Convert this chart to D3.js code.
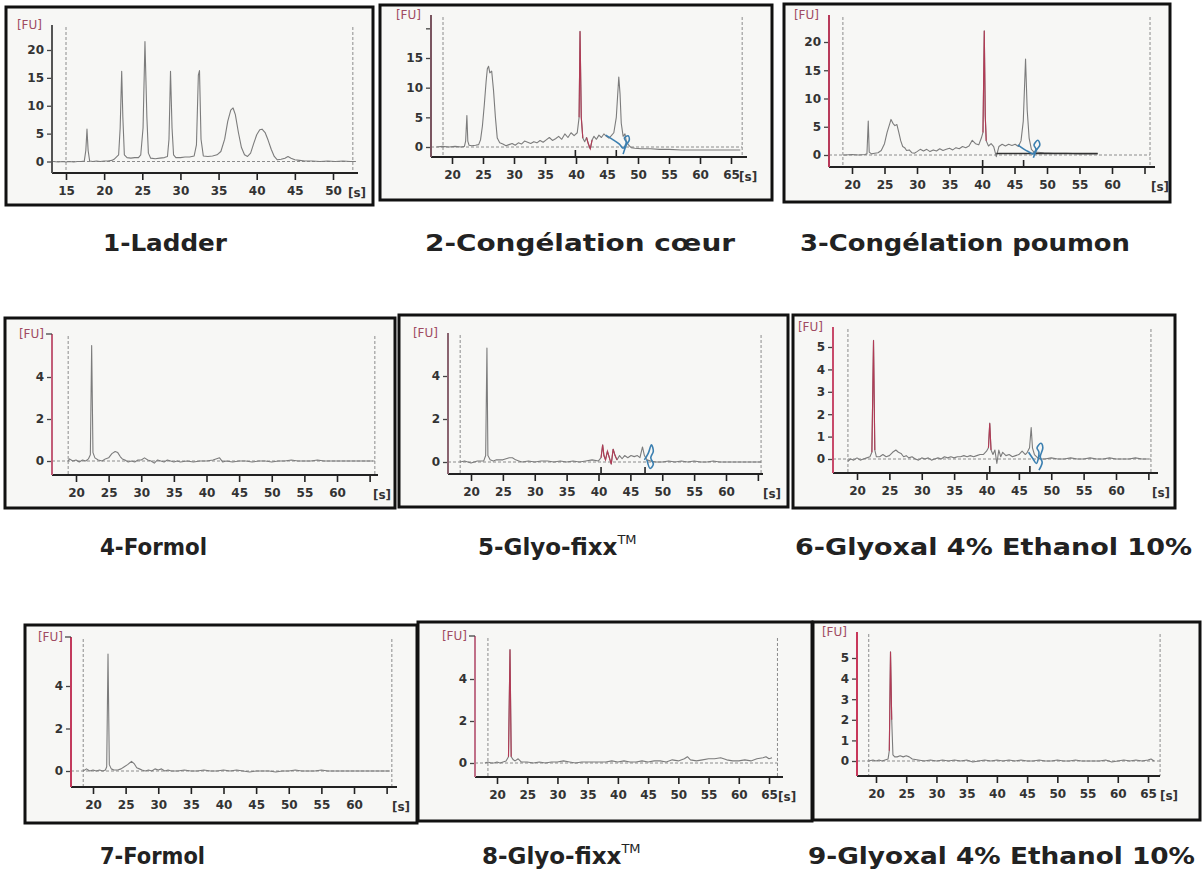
<!DOCTYPE html>
<html><head><meta charset="utf-8">
<script src="https://cdn.jsdelivr.net/npm/d3@7"></script>
<style>body{margin:0;background:#fff}</style>
</head><body>
<svg id="c" width="1203" height="872"></svg>
<script>
// ---------- DATA (time [s], fluorescence [FU]) ----------
const titles = ["1-Ladder","2-Congélation cœur","3-Congélation poumon","4-Formol","5-Glyo-fixx","6-Glyoxal 4% Ethanol 10%","7-Formol","8-Glyo-fixx","9-Glyoxal 4% Ethanol 10%"];
const titleSup = ["","","","","TM","","","TM",""];

const ladder = [[13.3,0],[14,-0.1],[14.5,0],[15,-0.1],[15.5,0],[16,-0.1],[16.5,0],[17,0],[17.4,0.1],[17.6,2],[17.75,5.8],[17.9,2],[18.1,0.1],[18.5,0],[19,0.1],[19.5,0],[20,0.1],[20.5,0.1],[21,0.2],[21.3,0.4],[21.6,0.8],[21.9,1.2],[22.1,6],[22.3,16.2],[22.45,8],[22.65,1.2],[23,0.7],[23.5,0.6],[24,0.7],[24.5,0.7],[24.8,1.2],[25.1,6],[25.35,21.5],[25.6,8],[25.8,1.5],[26.1,0.6],[26.7,0.5],[27.3,0.6],[27.9,0.7],[28.3,0.9],[28.5,4],[28.7,16.2],[28.9,6],[29.1,1.2],[29.4,0.7],[30,0.7],[30.6,0.8],[31.2,0.8],[31.8,1],[32.1,3],[32.35,15.5],[32.5,16.3],[32.7,4],[33,1],[33.6,0.9],[34.2,1],[34.8,1.2],[35.3,1.8],[35.8,4],[36.2,7.2],[36.6,9.2],[36.9,9.6],[37.2,8.4],[37.6,5.2],[38,2.5],[38.4,1.2],[38.8,0.9],[39.2,1.5],[39.6,3.2],[40,4.8],[40.4,5.7],[40.7,5.8],[41.1,5.2],[41.5,3.8],[41.9,2.2],[42.3,0.9],[42.7,0.3],[43.2,0.4],[43.7,0.6],[44.1,0.9],[44.5,0.6],[45,0.3],[45.6,0.2],[46.3,0.1],[47.3,0.1],[48.3,0],[49.3,0.1],[50.3,0],[51.3,0.1],[52.3,0],[53,0]];

const coeur = [[17.5,0],[18.5,0.1],[19.5,0],[20.5,0.1],[21.5,0],[22,0.1],[22.2,1],[22.4,5.3],[22.55,1],[22.75,0.3],[23.2,0.2],[23.8,0.3],[24.3,0.4],[24.6,1.2],[24.9,3.5],[25.2,7],[25.5,11],[25.7,13.2],[25.9,13.6],[26.1,12.5],[26.4,12.8],[26.7,9.5],[27,5],[27.3,1.5],[27.7,0.7],[28.2,0.5],[28.7,0.2],[29.2,0.4],[29.7,0.6],[30.2,0.3],[30.7,0.7],[31.2,0.5],[31.7,1],[32.2,0.8],[32.7,0.6],[33.2,0.9],[33.7,0.7],[34.2,1.1],[34.7,0.8],[35.2,1.2],[35.7,1.6],[36.2,1.1],[36.7,1.4],[37.2,1.8],[37.7,1.3],[38.2,2.2],[38.7,1.6],[39.2,2.4],[39.7,1.9],[40.2,2.4],[40.5,5],[40.65,19.5],[40.85,5],[41.1,1.5],[41.4,0.9],[41.7,1.6],[42,0.5],[42.3,-0.3],[42.6,1.2],[42.9,1.8],[43.3,1.3],[43.7,2],[44.1,1.6],[44.5,2.2],[44.9,1.8],[45.3,1.5],[45.7,1.9],[46.1,2.4],[46.5,5],[46.9,11.8],[47.1,9],[47.3,4],[47.6,1.8],[47.9,2.2],[48.1,1],[48.5,0.3],[48.9,-0.1],[49.5,-0.2],[50.5,-0.3],[52,-0.3],[53.5,-0.4],[55,-0.4],[57,-0.5],[59,-0.5],[61,-0.5],[63,-0.5],[65,-0.5],[66.5,-0.5]];
const coeurBlue = [[44.8,2],[46,1.2],[47,0.5],[47.6,-0.2],[48.1,0.8],[47.8,1.5],[48.4,1.9],[48.6,1.2],[48.1,0.3],[47.6,-1.2]];

const poumon = [[18.6,0],[19,0],[20,0.1],[21,0],[22,0.1],[22.3,0.2],[22.5,6],[22.65,0.5],[23,0.2],[23.5,0.3],[24,0.4],[24.5,0.8],[25,2],[25.4,4],[25.8,5.5],[26,6.3],[26.3,5.6],[26.6,5.2],[26.9,5.4],[27.2,4],[27.5,2.5],[27.8,1.5],[28.1,1.3],[28.4,0.8],[28.8,0.9],[29.2,0.4],[29.6,0.3],[30,0.6],[30.5,1],[31,0.7],[31.5,1],[32,0.6],[32.5,0.9],[33,0.7],[33.5,1.1],[34,0.8],[34.5,1],[35,1.2],[35.5,0.9],[36,1.3],[36.5,1.1],[37,1.5],[37.5,1.3],[38,1.6],[38.5,2.6],[39,2],[39.5,1.8],[39.9,3],[40.15,4],[40.35,22],[40.5,7],[40.65,2.5],[41,1.6],[41.4,2],[41.8,1.5],[42.2,-0.3],[42.6,1.5],[43.1,1.9],[43.6,1.6],[44.1,1.9],[44.6,1.7],[45.1,1.9],[45.6,1.5],[46,2.5],[46.35,6],[46.7,17],[46.95,8],[47.25,3],[47.6,1],[48,0.5],[48.5,0.5],[49.5,0.4],[51,0.3],[53,0.3],[55,0.2],[57.8,0.2]];
const poumonBase = [[42.2,0.25],[57.8,0.25]];
const poumonBlue = [[45.5,1.8],[46.5,1],[47.3,0.5],[47.8,0.2],[48.3,1],[48,1.8],[48.6,2.6],[48.9,1.8],[48.4,0.9],[47.9,-0.5]];

const formolA = [[18.8,0],[19,0.1],[19.5,0],[20,0.05],[20.5,-0.05],[21,0.05],[21.5,0],[21.9,0.1],[22.2,0.3],[22.4,5.5],[22.6,0.4],[22.9,0.15],[23.4,0.05],[24,0],[24.5,0.1],[25,0.15],[25.5,0.35],[26,0.45],[26.4,0.4],[26.8,0.2],[27.1,0.1],[27.5,0.05],[28,-0.05],[28.5,0],[29,-0.05],[29.5,0.05],[30,0.05],[30.5,0.15],[31,0.05],[31.5,0],[32,-0.1],[32.5,0.05],[33,0],[33.5,-0.05],[34,0.05],[34.5,0],[35,-0.05],[35.5,0],[36,-0.05],[37,0],[38,-0.05],[39,0],[40,0],[41,0.05],[42,0.15],[42.5,-0.05],[43,0],[44,-0.05],[45,0],[46,0],[47,-0.05],[48,0],[49,0],[50,-0.05],[51,0],[52,0],[53,0.05],[54,0],[55,0],[56,0],[57,0.05],[58,0],[59,0],[60,0],[61,0],[62,0],[63,0],[64,0],[65,0],[65.5,0]];

const glyoA = [[18.3,0],[19,0.05],[20,-0.05],[21,0.05],[22,0.05],[22.3,0.3],[22.5,5.3],[22.65,0.3],[23,0.1],[23.5,0.05],[24,0.1],[25,0.1],[25.5,0.15],[26,0.2],[26.5,0.2],[27,0.1],[27.5,0.05],[28,0],[29,0.05],[30,0],[31,0.05],[32,0.05],[33,0],[34,0.05],[35,0],[36,0.05],[37,0],[38,0.05],[39,0.1],[40,0.05],[40.4,0.2],[40.65,0.8],[40.85,0.3],[41.1,0.1],[41.4,0.5],[41.7,0.2],[42,-0.1],[42.3,0.6],[42.6,0.3],[42.9,0.1],[43.3,0.3],[43.7,0.15],[44.1,0.3],[44.6,0.2],[45.1,0.3],[45.6,0.25],[46.1,0.3],[46.5,0.2],[46.9,0.7],[47.2,0.3],[47.6,0.1],[48.2,0.05],[49,0],[50,0],[51,0.05],[52,0],[53,0.05],[54,0],[55,0.05],[56,0],[57,0],[58,0.05],[59,0],[60,0],[61,0],[62,0],[63,0],[64,0],[65.5,0]];
const glyoABlue = [[47.2,0.1],[47.8,0.4],[48.3,0.8],[48.6,0.5],[48.2,0.2],[48.6,-0.1],[48.1,-0.3],[47.6,0.1]];

const glyoxalA = [[18.6,-0.1],[19,0],[19.5,-0.05],[20,0.05],[20.5,-0.05],[21,0],[21.5,0.05],[22,0.1],[22.3,0.3],[22.55,5.3],[22.75,0.4],[23,0.1],[23.5,0.1],[24,0.2],[24.5,0.1],[25,0.15],[25.5,0.3],[26,0.4],[26.4,0.3],[26.8,0.25],[27.2,0.1],[27.6,0.15],[28,0.05],[28.5,0.1],[29,0],[29.5,-0.05],[30,0.05],[30.5,0],[31,0.05],[31.5,-0.05],[32,0],[32.5,0.05],[33,0],[33.5,0.1],[34,0.05],[34.5,0.1],[35,0.05],[35.5,0.1],[36,0.1],[36.5,0.15],[37,0.1],[37.5,0.15],[38,0.1],[38.5,0.15],[39,0.2],[39.5,0.2],[40,0.35],[40.3,0.5],[40.5,1.6],[40.7,0.4],[41,0.2],[41.3,0.4],[41.6,-0.2],[41.9,0.4],[42.2,0.1],[42.5,0.3],[43,0.15],[43.5,0.2],[44,0.1],[44.5,0.15],[45,0.2],[45.5,0.35],[46,0.2],[46.3,0.3],[46.65,0.5],[46.9,1.4],[47.1,0.5],[47.4,0.2],[47.9,0.05],[48.5,0],[49,0],[50,0.05],[51,0],[52,0],[53,0.05],[54,0],[55,0],[56,0.05],[57,0],[58,0],[59,0.05],[60,0],[61,0],[62,0],[63,0.05],[64,0],[65,0]];
const glyoxalABlue = [[46.5,0.3],[47.2,0],[47.7,-0.2],[48.1,0.3],[47.8,0.5],[48.4,0.7],[48.7,0.5],[48.3,0.1],[48.6,-0.15],[48.1,-0.5]];

const formolB = [[18.5,0],[19,0.1],[19.5,0],[20,0.05],[20.5,0],[21,0.05],[21.5,0],[21.9,0.05],[22.1,0.2],[22.3,5.5],[22.5,0.3],[22.8,0.1],[23.2,0.05],[23.8,0.05],[24.3,0.1],[24.8,0.2],[25.3,0.3],[25.9,0.45],[26.3,0.35],[26.7,0.15],[27.1,0.1],[27.5,0.05],[28,0],[28.5,0.05],[29,0],[29.5,0.1],[30,0.05],[30.5,0.1],[31,0],[31.5,0.05],[32,0],[33,0],[34,0.05],[35,0],[36,0],[37,0.05],[38,0],[39,0],[40,0.05],[41,0],[42,0.05],[43,0],[44,-0.05],[45,0],[46,0],[47,0],[48,-0.05],[49,0],[50,0],[51,0.05],[52,0],[53,0],[54,0],[55,0.05],[56,0],[57,0],[58,0],[59,0],[60,0],[61,0],[62,0],[63,0],[64,0],[65,0],[65.5,0]];

const glyoB = [[18,0],[18.5,0.05],[19,0],[19.5,0],[20,0.05],[20.5,0],[21,0.05],[21.5,0.1],[21.9,0.3],[22.15,5.4],[22.35,0.3],[22.7,0.15],[23,0.1],[23.5,0.2],[24,0.05],[25,0.05],[26,0],[27,0.05],[28,0],[29,0.05],[30,0.05],[31,0.1],[32,0.05],[33,0],[34,0.05],[35,0.05],[36,0.05],[37,0.05],[38,0.05],[39,0.1],[40,0.05],[41,0.1],[42,0.05],[43,0.05],[44,0.1],[45,0.05],[46,0.1],[47,0.1],[48,0.05],[49,0.15],[50,0.1],[51,0.2],[51.5,0.3],[52,0.15],[53,0.1],[54,0.15],[55,0.2],[56,0.2],[57,0.25],[58,0.15],[59,0.1],[60,0.1],[61,0.15],[62,0.1],[63,0.2],[64,0.25],[64.5,0.3],[65,0.2],[65.5,0.25]];

const glyoxalB = [[18.8,0],[19.5,0.05],[20,0],[20.5,0.05],[21,0],[21.5,0.05],[22,0.1],[22.2,0.5],[22.4,5.3],[22.6,2],[22.8,0.3],[23.1,0.2],[23.5,0.2],[24,0.25],[24.5,0.2],[25,0.25],[25.5,0.2],[26,0.1],[27,0.05],[28,0],[29,0.05],[30,0],[31,0.05],[32,0],[33,0.05],[34,0],[35,0.05],[36,-0.05],[37,0],[38,0.05],[39,0],[40,0.05],[41,0],[42,0.05],[43,0],[44,0.05],[45,0],[46,0],[47,0.05],[48,0],[49,0],[50,0.05],[51,0],[52,0],[53,0.05],[54,0],[55,0],[56,0],[57,0],[58,0.05],[59,-0.05],[60,0],[61,0.05],[62,0],[63,0.05],[64,0],[65,0.05],[65.5,0.1],[66,0]];

const xTicksA = [15,20,25,30,35,40,45,50];
const xTicksB = [20,25,30,35,40,45,50,55,60,65];
const yTicksLadder = [0,5,10,15,20];
const yTicksSmall = [0,2,4];
const yTicksFive = [0,1,2,3,4,5];

// ---------- LAYOUT / STYLE ----------
const panels = [
 {trace:ladder, box:[6,7,373,205], yAx:52, yTop:25, xAxY:173, xRef:[15,50], xPx:[66,333], yRef:[0,20], yPx:[161.5,50], xEnd:358, dash:[15,52.6], xt:xTicksA, xl:xTicksA, yt:yTicksLadder, yl:yTicksLadder, sX:357, sA:"middle", yCol:"#555", fuTick:false, red:[]},
 {trace:coeur, blue:coeurBlue, box:[380,5,772,200], yAx:431, yTop:15, xAxY:157, xRef:[20,65], xPx:[452,731], yRef:[0,15], yPx:[147,58], xEnd:747, dash:[18.55,66.8], xt:xTicksB, xl:xTicksB, yt:[0,5,10,15,20], yl:[0,5,10,15], sX:739, sA:"start", yCol:"#7a5560", fuTick:false, red:[[40.3,41.1],[41.5,42.8]], marks:[39.9,46.5]},
 {trace:poumon, base:poumonBase, blue:poumonBlue, box:[784,4,1170,202], yAx:829, yTop:15, xAxY:167, xRef:[20,60], xPx:[852,1112], yRef:[0,20], yPx:[155,42], xEnd:1155, dash:[18.6,65.85], xt:xTicksB, xl:[20,25,30,35,40,45,50,55,60], yt:yTicksLadder, yl:yTicksLadder, sX:1160, sA:"middle", yCol:"#b83a5a", fuTick:false, red:[[40,40.7]], marks:[40.1,46.4]},
 {trace:formolA, box:[5,318,395,508], yAx:52, yTop:334, xAxY:475, xRef:[20,60], xPx:[76,337], yRef:[0,4], yPx:[461,377], xEnd:378, dash:[18.8,65.8], xt:xTicksB, xl:[20,25,30,35,40,45,50,55,60], yt:yTicksSmall, yl:yTicksSmall, sX:382, sA:"middle", yCol:"#c25d78", fuTick:true, red:[]},
 {trace:glyoA, blue:glyoABlue, box:[399,315,788,507], yAx:448, yTop:333, xAxY:474, xRef:[20,60], xPx:[471,726], yRef:[0,4], yPx:[462,376], xEnd:763, dash:[18.3,65.5], xt:xTicksB, xl:[20,25,30,35,40,45,50,55,60], yt:yTicksSmall, yl:yTicksSmall, sX:772, sA:"middle", yCol:"#8a6470", fuTick:false, red:[[40.4,43]], marks:[40.4,47.3]},
 {trace:glyoxalA, blue:glyoxalABlue, box:[793,315,1175,508], yAx:833, yTop:327, xAxY:473, xRef:[20,60], xPx:[857,1116], yRef:[0,5], yPx:[459,347], xEnd:1158, dash:[18.6,65.4], xt:xTicksB, xl:[20,25,30,35,40,45,50,55,60], yt:yTicksFive, yl:yTicksFive, sX:1161, sA:"middle", yCol:"#c84a6a", fuTick:false, red:[[22.2,22.8],[40.3,40.7]], marks:[40.5,46.7]},
 {trace:formolB, box:[25,625,417,823], yAx:71, yTop:637, xAxY:787, xRef:[20,60], xPx:[93,354], yRef:[0,4], yPx:[771,686], xEnd:397, dash:[18.5,65.8], xt:xTicksB, xl:[20,25,30,35,40,45,50,55,60], yt:yTicksSmall, yl:yTicksSmall, sX:401, sA:"middle", yCol:"#c23a5c", fuTick:true, red:[]},
 {trace:glyoB, box:[418,622,812,821], yAx:475, yTop:636, xAxY:777, xRef:[20,65], xPx:[497,769], yRef:[0,4], yPx:[763,679], xEnd:783, dash:[18.5,66.4], xt:xTicksB, xl:xTicksB, yt:yTicksSmall, yl:yTicksSmall, sX:778, sA:"start", yCol:"#c07088", fuTick:true, red:[[21.9,22.4]]},
 {trace:glyoxalB, box:[813,622,1200,820], yAx:857, yTop:632, xAxY:776, xRef:[20,65], xPx:[876,1148], yRef:[0,5], yPx:[761,658], xEnd:1160, dash:[18.8,67], xt:xTicksB, xl:xTicksB, yt:yTicksFive, yl:yTicksFive, sX:1169, sA:"middle", yCol:"#c8385a", fuTick:false, red:[[22.2,22.7]]}
];
const titlePos = [[103,251,124],[425,251,310],[800,251,330],[100,555,107],[478,555,137],[795,555,397],[100,864,105],[482,864,138],[808,864,387]];

const svg = d3.select("#c");
svg.append("rect").attr("width",1203).attr("height",872).attr("fill","#fff");

panels.forEach((p,i)=>{
  const g = svg.append("g");
  g.append("rect").attr("x",p.box[0]).attr("y",p.box[1])
    .attr("width",p.box[2]-p.box[0]).attr("height",p.box[3]-p.box[1])
    .attr("fill","#f7f7f5").attr("stroke","#111").attr("stroke-width",3);
  const x = d3.scaleLinear().domain(p.xRef).range(p.xPx);
  const y = d3.scaleLinear().domain(p.yRef).range(p.yPx);

  p.dash.forEach(t=>{
    g.append("line").attr("x1",x(t)).attr("x2",x(t)).attr("y1",p.yTop+2).attr("y2",p.xAxY)
      .attr("stroke","#8c8c8c").attr("stroke-width",1).attr("stroke-dasharray","3,2");
  });
  g.append("line").attr("x1",p.yAx).attr("x2",x(p.dash[1])).attr("y1",y(0)).attr("y2",y(0))
    .attr("stroke","#8c8c8c").attr("stroke-width",1).attr("stroke-dasharray","3,2");

  const line = d3.line().x(d=>x(d[0])).y(d=>y(d[1]));
  g.append("path").datum(p.trace).attr("d",line).attr("fill","none")
    .attr("stroke","#7c7c7c").attr("stroke-width",1.1).attr("stroke-linejoin","round");
  (p.red||[]).forEach(r=>{
    const seg = p.trace.filter(d=>d[0]>=r[0]&&d[0]<=r[1]);
    g.append("path").datum(seg).attr("d",line).attr("fill","none")
      .attr("stroke","#b23a55").attr("stroke-width",1.1);
  });
  if(p.base) g.append("path").datum(p.base).attr("d",line).attr("fill","none").attr("stroke","#333").attr("stroke-width",1.5);
  if(p.blue) g.append("path").datum(p.blue).attr("d",d3.line().x(d=>x(d[0])).y(d=>y(d[1])).curve(d3.curveCatmullRom))
    .attr("fill","none").attr("stroke","#3b7fb0").attr("stroke-width",1.6);

  const xa = g.append("g").attr("transform",`translate(0,${p.xAxY})`)
    .call(d3.axisBottom(x).tickValues(p.xt).tickSize(7).tickPadding(6)
      .tickFormat(d=>p.xl.includes(d)?d:""));
  xa.select(".domain").remove();
  xa.selectAll(".tick line").attr("stroke","#222").attr("stroke-width",1.6);
  xa.selectAll(".tick text").attr("font-family","DejaVu Sans").attr("font-weight","bold")
    .attr("font-size",12).attr("fill","#333");
  g.append("line").attr("x1",p.yAx).attr("x2",p.xEnd).attr("y1",p.xAxY).attr("y2",p.xAxY)
    .attr("stroke","#222").attr("stroke-width",2);
  (p.marks||[]).forEach(t=>{
    g.append("line").attr("x1",x(t)).attr("x2",x(t)).attr("y1",p.xAxY-7).attr("y2",p.xAxY)
      .attr("stroke","#222").attr("stroke-width",1.6);
  });
  g.append("text").attr("x",p.sX).attr("y",p.xAxY+24).attr("text-anchor",p.sA)
    .attr("font-family","DejaVu Sans").attr("font-weight","bold").attr("font-size",12)
    .attr("fill","#333").text("[s]");

  const ya = g.append("g").attr("transform",`translate(${p.yAx},0)`)
    .call(d3.axisLeft(y).tickValues(p.yt).tickSize(5).tickPadding(3)
      .tickFormat(d=>p.yl.includes(d)?d:""));
  ya.select(".domain").remove();
  ya.selectAll(".tick line").attr("stroke","#444").attr("stroke-width",1.3);
  ya.selectAll(".tick text").attr("font-family","DejaVu Sans").attr("font-weight","bold")
    .attr("font-size",12).attr("fill","#333");
  g.append("line").attr("x1",p.yAx).attr("x2",p.yAx).attr("y1",p.yTop).attr("y2",p.xAxY)
    .attr("stroke",p.yCol).attr("stroke-width",2);
  if(p.fuTick) g.append("line").attr("x1",p.yAx-6).attr("x2",p.yAx).attr("y1",p.yTop).attr("y2",p.yTop)
    .attr("stroke","#444").attr("stroke-width",1.3);
  g.append("text").attr("x",p.yAx-(p.fuTick?8:10)).attr("y",p.yTop+4).attr("text-anchor","end")
    .attr("font-family","DejaVu Sans").attr("font-size",12).attr("fill","#a04b62").text("[FU]");

  const tp = titlePos[i];
  const t = svg.append("text").attr("x",tp[0]).attr("y",tp[1])
    .attr("font-family","DejaVu Sans").attr("font-weight","bold").attr("font-size",23).attr("fill","#222");
  t.append("tspan").text(titles[i]);
  if(titleSup[i]) {
    t.append("tspan").attr("font-size",13).attr("font-weight","normal").attr("dy",-11).text(titleSup[i]);
  } else {
    t.attr("textLength",tp[2]).attr("lengthAdjust","spacingAndGlyphs");
  }
});
</script>
</body></html>
